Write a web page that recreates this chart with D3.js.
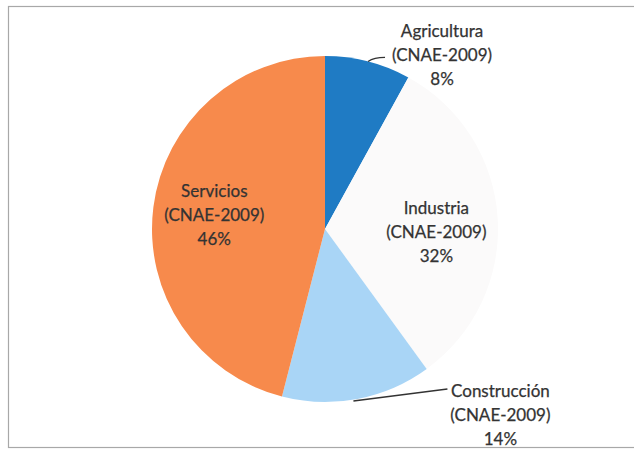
<!DOCTYPE html>
<html>
<head>
<meta charset="utf-8">
<script src="https://cdn.jsdelivr.net/npm/d3@7"></script>
<style>
  html, body { margin: 0; padding: 0; background: #fff; }
  svg { display: block; }
  text { font-family: Lato, "Open Sans", sans-serif; font-size: 17px; fill: #333; stroke: #333; stroke-width: 0.25px; }
</style>
</head>
<body>
<svg id="chart" width="634" height="453"></svg>
<script>
// sectores (sentido horario desde las 12)
const categories = ["Agricultura", "Industria", "Construcción", "Servicios"];
const subLabels = ["(CNAE-2009)", "(CNAE-2009)", "(CNAE-2009)", "(CNAE-2009)"];
const values = [8, 32, 14, 46];
const colors = ["#1f7bc4", "#fbfafa", "#a9d5f6", "#f78a4c"];

const svg = d3.select("#chart");
const width = 634, height = 453;

// marco del gráfico
svg.append("rect")
    .attr("x", 8.5).attr("y", 6.5)
    .attr("width", 640).attr("height", 441)
    .attr("fill", "#fff")
    .attr("stroke", "#a8a8a8")
    .attr("stroke-width", 1.2);

const cx = 325, cy = 229, R = 173;
const g = svg.append("g").attr("transform", `translate(${cx},${cy})`);

const data = categories.map((c, i) => ({ name: c, sub: subLabels[i], value: values[i], color: colors[i] }));

const pie = d3.pie().sort(null).value(d => d.value);
const arc = d3.arc().innerRadius(0).outerRadius(R);
const arcs = pie(data);

g.selectAll("path.slice")
    .data(arcs)
    .enter()
    .append("path")
    .attr("class", "slice")
    .attr("d", arc)
    .attr("fill", d => d.data.color);

// etiquetas: dentro para sectores grandes, fuera con línea guía para los pequeños
const lineH = 24;
function polar(a, r) { return [Math.sin(a) * r, -Math.cos(a) * r]; }

arcs.forEach((d, i) => {
    const mid = (d.startAngle + d.endAngle) / 2;
    const lines = [d.data.name, d.data.sub, d.data.value + "%"];
    let tx, ty;

    if (d.data.value >= 20) {
        [tx, ty] = polar(mid, R * 0.645);
        if (i === 1) ty += 10;
    } else {
        const [ex, ey] = polar(mid, R);
        let lx, ly;
        if (mid < Math.PI / 2) {
            // arriba a la derecha
            lx = ex + 17; ly = ey - 4;
            g.append("path")
                .attr("d", `M${ex},${ey} Q${ex + 6},${ly} ${lx},${ly}`)
                .attr("fill", "none").attr("stroke", "#333").attr("stroke-width", 1.2);
            tx = lx + 57; ty = ly - 2;
        } else {
            lx = ex + 90; ly = ey - 10;
            g.append("line")
                .attr("x1", ex - 4).attr("y1", ey + 2)
                .attr("x2", lx).attr("y2", ly)
                .attr("stroke", "#333").attr("stroke-width", 1.4);
            tx = lx + 53; ty = ly + 26;
        }
    }

    const t = g.append("text")
        .attr("text-anchor", "middle")
        .attr("transform", `translate(${tx},${ty})`);
    lines.forEach((s, k) => {
        t.append("tspan")
            .attr("x", 0)
            .attr("y", (k - 1) * lineH + 6)
            .text(s);
    });
});
</script>
</body>
</html>
